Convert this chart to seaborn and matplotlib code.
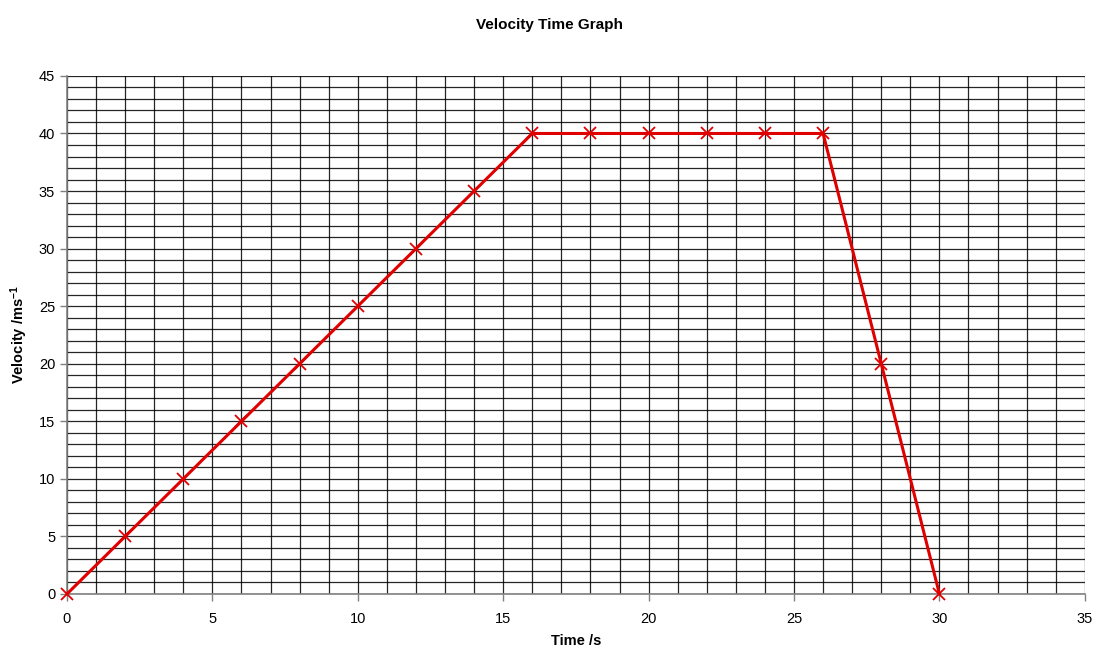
import matplotlib
matplotlib.use("Agg")
import matplotlib.pyplot as plt
import seaborn as sns
import pandas as pd
import numpy as np

time_s = [0, 2, 4, 6, 8, 10, 12, 14, 16, 18, 20, 22, 24, 26, 28, 30]
velocity = [0, 5, 10, 15, 20, 25, 30, 35, 40, 40, 40, 40, 40, 40, 20, 0]

sns.set_style("white")
plt.rcParams['font.family'] = ['Liberation Sans', 'DejaVu Sans']
plt.rcParams['text.color'] = 'black'
plt.rcParams['axes.labelcolor'] = 'black'
plt.rcParams['xtick.color'] = 'black'
plt.rcParams['ytick.color'] = 'black'
plt.rcParams['mathtext.fontset'] = 'custom'
plt.rcParams['mathtext.bf'] = 'Liberation Sans:bold'
plt.rcParams['mathtext.rm'] = 'Liberation Sans:bold'
plt.rcParams['mathtext.default'] = 'bf'

df = pd.DataFrame({"Time": time_s, "Velocity": velocity})

fig = plt.figure(figsize=(10.98, 6.5), dpi=100)
ax = fig.add_axes([0.061, 0.0862, 0.927, 0.797])

ax.set_xlim(0, 35)
ax.set_ylim(0, 45)
ax.set_xticks(np.arange(0, 36, 5))
ax.set_yticks(np.arange(0, 46, 5))
ax.set_xticks(np.arange(0, 36, 1), minor=True)
ax.set_yticks(np.arange(0, 46, 1), minor=True)
ax.grid(True, which='both', color='black', linewidth=0.9, alpha=0.85)
ax.set_axisbelow(True)

sns.lineplot(data=df, x="Time", y="Velocity", ax=ax, color='#e00000',
             linewidth=2.2, marker='x', markersize=9, markeredgewidth=1.3,
             markeredgecolor='#e00000', clip_on=False, zorder=5)

for s in ['top', 'right']:
    ax.spines[s].set_visible(False)
ax.spines['left'].set_color('#808080')
ax.spines['bottom'].set_color('#808080')
ax.spines['left'].set_linewidth(1.2)
ax.spines['bottom'].set_linewidth(1.2)

ax.tick_params(axis='both', which='major', direction='out', length=5, width=1,
               color='#808080', labelcolor='black', labelsize=10.5, bottom=True, left=True)
ax.tick_params(axis='both', which='minor', length=0)
ax.tick_params(axis='x', pad=8)

ax.set_xlabel("Time /s", fontsize=10.5, fontweight='bold', labelpad=6, color='black')
ax.set_ylabel("Velocity /ms$^{-1}$", fontsize=10.5, fontweight='bold', labelpad=6, color='black')
fig.suptitle("Velocity Time Graph", fontsize=11, fontweight='bold', y=0.972, color='black')

fig.savefig("out.png", dpi=100)
